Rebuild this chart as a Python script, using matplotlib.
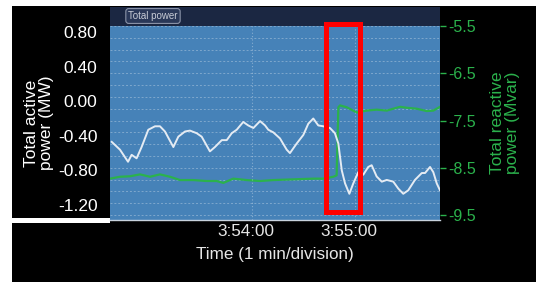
import matplotlib.pyplot as plt
from matplotlib.patches import Rectangle
from matplotlib.ticker import MultipleLocator, FixedLocator
import matplotlib.transforms as mtransforms

plt.rcParams['font.family'] = ['Liberation Sans', 'DejaVu Sans']

# Time in seconds relative to 3:54:00
active_t = [-81.7, -76.9, -72.2, -70.1, -67.2, -64.3, -60.4, -56.5, -53.6, -50.7,
            -45.8, -42.9, -39.0, -36.1, -32.2, -29.3, -24.5, -21.6, -17.6, -14.7,
            -11.8, -8.9, -5.1, -2.2, 0.8, 4.7, 7.6, 9.5, 12.4, 16.3,
            20.2, 22.1, 26.0, 29.9, 32.8, 35.7, 38.6, 41.5, 45.4, 48.3,
            50.3, 52.3, 54.2, 56.7, 59.0, 61.9, 64.8, 67.7, 69.7, 72.6,
            75.6, 78.5, 82.3, 85.2, 88.1, 91.0, 94.9, 98.9, 100.8, 103.7,
            105.6, 107.6, 109.5]
active_mw = [-0.47, -0.56, -0.70, -0.62, -0.66, -0.53, -0.33, -0.29, -0.29, -0.35,
             -0.53, -0.41, -0.35, -0.34, -0.37, -0.41, -0.58, -0.53, -0.45, -0.45,
             -0.37, -0.33, -0.24, -0.28, -0.31, -0.23, -0.28, -0.33, -0.36, -0.43,
             -0.56, -0.60, -0.49, -0.39, -0.26, -0.20, -0.28, -0.29, -0.31, -0.37,
             -0.49, -0.80, -0.95, -1.07, -0.95, -0.82, -0.85, -0.76, -0.74, -0.87,
             -0.93, -0.91, -0.93, -1.01, -1.07, -1.03, -0.91, -0.83, -0.83, -0.76,
             -0.82, -0.95, -1.03]

reactive_t = [-82.7, -76.9, -71.1, -65.2, -59.4, -53.6, -47.8, -41.9, -34.2, -26.4,
              -20.6, -16.7, -10.9, -3.1, 4.7, 12.4, 20.2, 28.0, 35.7, 41.5,
              47.4, 49.3, 50.3, 51.3, 55.2, 61.0, 66.8, 72.6, 78.5, 82.3,
              86.2, 90.1, 95.9, 101.8, 105.6, 109.5]
reactive_mvar = [-8.73, -8.69, -8.68, -8.64, -8.69, -8.64, -8.69, -8.76, -8.76, -8.78,
                 -8.78, -8.82, -8.73, -8.76, -8.78, -8.76, -8.75, -8.74, -8.73, -8.73,
                 -8.69, -8.66, -7.22, -7.18, -7.22, -7.33, -7.29, -7.27, -7.29, -7.25,
                 -7.21, -7.23, -7.25, -7.30, -7.29, -7.21]

left_ticks = [0.80, 0.40, 0.00, -0.40, -0.80, -1.20]
right_ticks = [-5.5, -6.5, -7.5, -8.5, -9.5]
time_ticks = [0, 60]
time_labels = ['3:54:00', '3:55:00']

# highlighted window (seconds)
box_t = (43.0, 63.0)
box_mw = (-1.285, 0.895)

W, H = 536, 282
fig = plt.figure(figsize=(W / 100, H / 100), dpi=100)
fig.patch.set_facecolor('white')

# black panel and title bar
fig.patches.append(Rectangle((12 / W, 0), 1 - 12 / W, 1 - 6 / H, transform=fig.transFigure,
                             facecolor='black', edgecolor='none', zorder=-10))
fig.patches.append(Rectangle((12 / W, 1 - 223 / H), 98 / W, 5 / H, transform=fig.transFigure,
                             facecolor='white', edgecolor='none', zorder=-9))
fig.patches.append(Rectangle((110 / W, 1 - 26 / H), 330 / W, 19 / H, transform=fig.transFigure,
                             facecolor='#1b2742', edgecolor='none', zorder=-9))
fig.text(153 / W, 1 - 16 / H, 'Total power', color='#c8ccd6', fontsize=7, ha='center', va='center',
         bbox=dict(boxstyle='round,pad=0.25,rounding_size=0.3', facecolor='#2a3858',
                   edgecolor='#8a93a8', linewidth=0.8))

ax = fig.add_axes([110 / W, 1 - 220 / H, 330 / W, 194 / H])
ax2 = ax.twinx()
ax.set_zorder(ax2.get_zorder() + 1)
ax.patch.set_visible(False)
ax2.patch.set_visible(True)
ax2.patch.set_facecolor('#4682b8')

green = '#2bb24c'
ax2.plot(reactive_t, reactive_mvar, color=green, linewidth=1.6)
ax.plot(active_t, active_mw, color='#e4ebf3', linewidth=1.4)

ax.set_xlim(-82.7, 109.5)
ax.set_ylim(-1.373, 0.869)
ax2.set_ylim(-9.605, -5.521)

# grid
ax2.yaxis.set_minor_locator(MultipleLocator(0.25))
ax2.grid(True, which='both', axis='y', color='white', alpha=0.3, linestyle=(0, (2, 2)), linewidth=0.7)
for t in time_ticks:
    ax2.axvline(t, color='white', alpha=0.35, linestyle=(0, (1, 2)), linewidth=0.8)

ax.add_patch(Rectangle((box_t[0], box_mw[0]), box_t[1] - box_t[0], box_mw[1] - box_mw[0],
                       fill=False, edgecolor='#ff0000', linewidth=3.6, clip_on=False, zorder=5))

# ticks
ax.yaxis.set_major_locator(FixedLocator(left_ticks))
ax.set_yticklabels(['%.2f' % v for v in left_ticks])
ax.tick_params(axis='y', length=0, pad=9, labelsize=12.5, labelcolor='white')
ax2.set_yticks(right_ticks)
ax2.set_yticklabels(['%.1f' % v for v in right_ticks])
ax2.tick_params(axis='y', which='major', length=4, width=1, color=green, pad=2,
                labelsize=11.5, labelcolor=green)
ax2.tick_params(axis='y', which='minor', length=0)
ax.set_xticks(time_ticks)
ax.set_xticklabels(time_labels)
ax.tick_params(axis='x', length=0, pad=3, labelsize=12.3, labelcolor='#e6e6e6')
offset = mtransforms.ScaledTranslation(-6 / 100, 0, fig.dpi_scale_trans)
for lab in ax.get_xticklabels():
    lab.set_transform(lab.get_transform() + offset)

for a in (ax, ax2):
    for s in a.spines.values():
        s.set_visible(False)
ax.spines['bottom'].set_visible(True)
ax.spines['bottom'].set_color('#c9d3de')
ax.spines['bottom'].set_linewidth(1)

ax.set_ylabel('Total active\npower (MW)', color='white', fontsize=12.5, labelpad=3, linespacing=1.0)
ax2.set_ylabel('Total reactive\npower (Mvar)', color=green, fontsize=12.5, labelpad=10, linespacing=1.0)
ax.set_xlabel('Time (1 min/division)', color='#e6e6e6', fontsize=12.3, labelpad=6)

fig.savefig('out.png', dpi=100, facecolor=fig.get_facecolor())
